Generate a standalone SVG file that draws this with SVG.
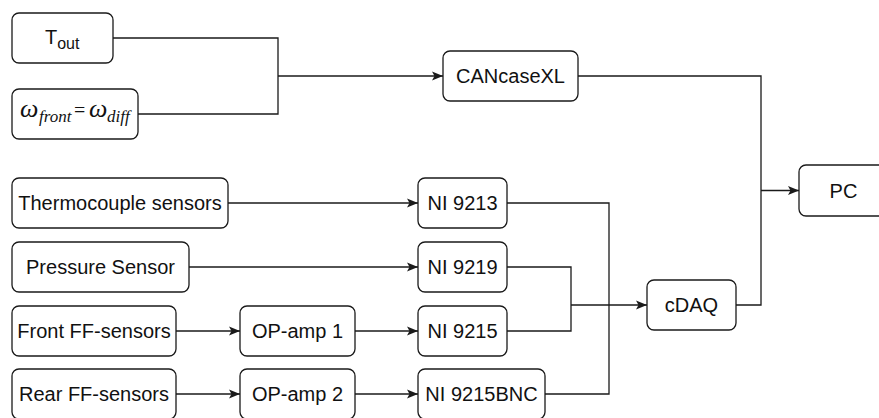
<svg xmlns="http://www.w3.org/2000/svg" width="879" height="418" viewBox="0 0 879 418">
<defs>
<style>
.box{fill:#fff;stroke:#1a1a1a;stroke-width:1.3}
.lbl{font-family:"Liberation Sans",Arial,Helvetica,sans-serif;font-size:20px;fill:#111;text-anchor:middle}
.math{font-family:"Liberation Serif","Times New Roman",serif;font-style:italic;fill:#111}
.conn{fill:none;stroke:#1a1a1a;stroke-width:1.3}
</style>
<marker id="arr" markerUnits="userSpaceOnUse" markerWidth="12" markerHeight="10" viewBox="0 0 12 10" refX="11.5" refY="5" orient="auto">
<path d="M0.5,0.5 L11.5,5 L0.5,9.5 L3,5 Z" fill="#1a1a1a"/>
</marker>
</defs>
<rect width="879" height="418" fill="#fff"/>
<g id="connectors">
<path class="conn" d="M113 38 H278 V114 H138"/>
<path class="conn" d="M278 76 H443" marker-end="url(#arr)"/>
<path class="conn" d="M578 76 H761 V305 H736"/>
<path class="conn" d="M761 190.5 H799" marker-end="url(#arr)"/>
<path class="conn" d="M228 203 H418" marker-end="url(#arr)"/>
<path class="conn" d="M189 267 H418" marker-end="url(#arr)"/>
<path class="conn" d="M176 331 H240" marker-end="url(#arr)"/>
<path class="conn" d="M355 331 H418" marker-end="url(#arr)"/>
<path class="conn" d="M176 394 H240" marker-end="url(#arr)"/>
<path class="conn" d="M355 394 H418" marker-end="url(#arr)"/>
<path class="conn" d="M507 203 H609 V394 H545"/>
<path class="conn" d="M507 267 H571 V331 H507"/>
<path class="conn" d="M571 305 H647" marker-end="url(#arr)"/>
</g>
<g id="tout">
<rect class="box" x="12" y="13" width="101" height="50" rx="7"/>
<text class="lbl" x="45" y="44" style="text-anchor:start">T<tspan font-size="16" dy="5">out</tspan></text>
</g>
<g id="omega">
<rect class="box" x="12" y="89" width="126" height="50" rx="7"/>
<text class="math" y="117"><tspan x="20" font-size="26">ω</tspan><tspan x="39" dy="5" font-size="17">front</tspan><tspan x="74" dy="-5" font-size="20" font-style="normal">=</tspan><tspan x="89" font-size="26">ω</tspan><tspan x="107" dy="5" font-size="17">diff</tspan></text>
</g>
<g id="cancasexl">
<rect class="box" x="443" y="51" width="135" height="50" rx="7"/>
<text class="lbl" x="510.5" y="83">CANcaseXL</text>
</g>
<g id="pc">
<rect class="box" x="799" y="165" width="89" height="51" rx="7"/>
<text class="lbl" x="843.5" y="197.5">PC</text>
</g>
<g id="thermocouple">
<rect class="box" x="12" y="178" width="216" height="50" rx="7"/>
<text class="lbl" x="120" y="210">Thermocouple sensors</text>
</g>
<g id="pressure">
<rect class="box" x="12" y="242" width="177" height="50" rx="7"/>
<text class="lbl" x="100.5" y="274">Pressure Sensor</text>
</g>
<g id="front-ff">
<rect class="box" x="12" y="306" width="164" height="50" rx="7"/>
<text class="lbl" x="94" y="338">Front FF-sensors</text>
</g>
<g id="rear-ff">
<rect class="box" x="12" y="369" width="164" height="50" rx="7"/>
<text class="lbl" x="94" y="401">Rear FF-sensors</text>
</g>
<g id="opamp1">
<rect class="box" x="240" y="306" width="115" height="50" rx="7"/>
<text class="lbl" x="297.5" y="338">OP-amp 1</text>
</g>
<g id="opamp2">
<rect class="box" x="240" y="369" width="115" height="50" rx="7"/>
<text class="lbl" x="297.5" y="401">OP-amp 2</text>
</g>
<g id="ni9213">
<rect class="box" x="418" y="178" width="89" height="50" rx="7"/>
<text class="lbl" x="462.5" y="210">NI 9213</text>
</g>
<g id="ni9219">
<rect class="box" x="418" y="242" width="89" height="50" rx="7"/>
<text class="lbl" x="462.5" y="274">NI 9219</text>
</g>
<g id="ni9215">
<rect class="box" x="418" y="306" width="89" height="50" rx="7"/>
<text class="lbl" x="462.5" y="338">NI 9215</text>
</g>
<g id="ni9215bnc">
<rect class="box" x="418" y="369" width="127" height="50" rx="7"/>
<text class="lbl" x="481.5" y="401">NI 9215BNC</text>
</g>
<g id="cdaq">
<rect class="box" x="647" y="280" width="89" height="50" rx="7"/>
<text class="lbl" x="691.5" y="312">cDAQ</text>
</g>
</svg>
